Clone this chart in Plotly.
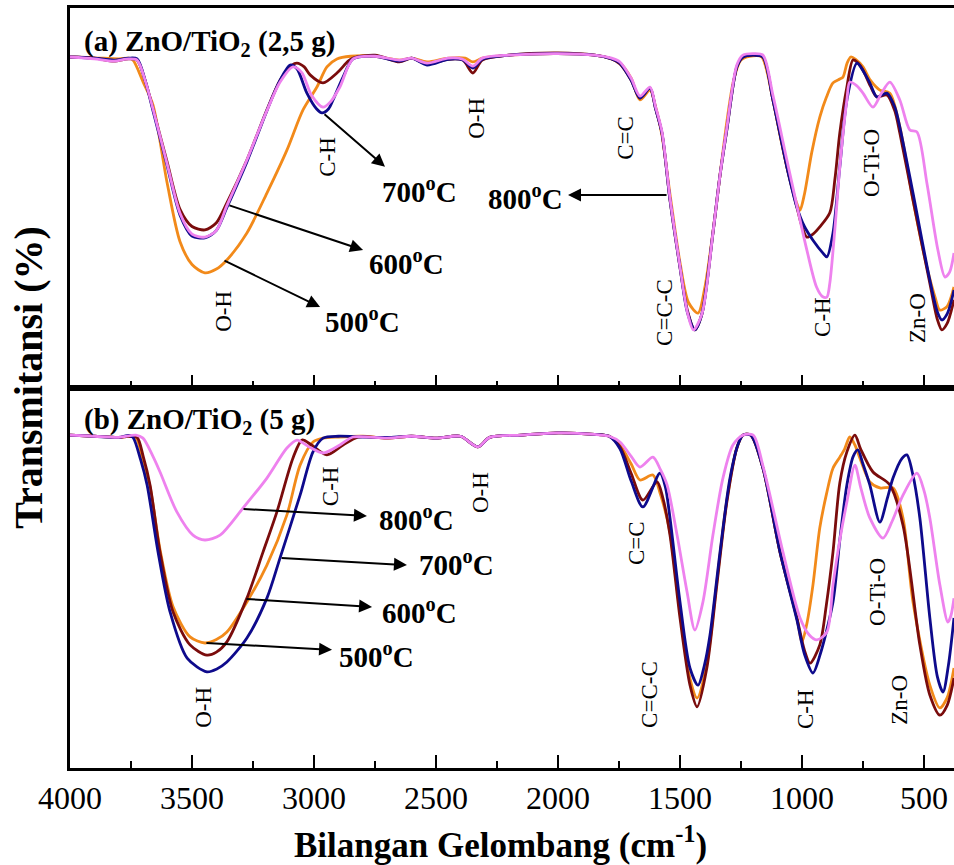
import plotly.graph_objects as go

# ---------------- data (wavenumber cm-1, transmittance a.u.) ----------------
# Panel (a) ZnO/TiO2 (2,5 g)
A500_WN = [4000, 3900, 3800, 3760, 3742, 3700, 3660, 3602, 3549, 3500, 3447, 3400, 3357, 3275, 3193, 3111,
           3045, 2988, 2947, 2906, 2850, 2750, 2650, 2600, 2537, 2450, 2380, 2349, 2310, 2200, 2000, 1850,
           1780, 1746, 1700, 1664, 1623, 1600, 1574, 1541, 1500, 1465, 1426, 1398, 1365, 1336, 1308, 1280,
           1250, 1200, 1165, 1119, 1090, 1062, 1021, 1008, 990, 960, 927, 900, 873, 845, 832, 815, 800,
           780, 750, 720, 681, 640, 599, 545, 488, 455, 435, 405, 377]
A500_T = [87.1, 86.9, 86.6, 86.8, 86.3, 80.5, 74.5, 54.0, 38.5, 32.5, 30.3, 31.3, 33.7, 40.8, 51.3, 62.6,
          73.2, 79.2, 84.5, 86.6, 87.3, 87.3, 86.3, 86.8, 85.8, 86.8, 86.8, 85.8, 86.8, 87.6, 88.0, 87.6,
          86.6, 85.5, 81.5, 75.8, 78.4, 74.0, 66.5, 51.0, 33.0, 22.5, 19.7, 26.5, 41.0, 56.0, 70.0, 81.0,
          86.3, 87.4, 87.1, 75.8, 66.5, 58.2, 48.5, 46.8, 51.0, 62.0, 71.3, 76.5, 80.3, 81.3, 81.8, 85.5, 87.1,
          86.5, 84.5, 81.0, 78.4, 77.6, 68.7, 49.5, 31.8, 24.0, 20.5, 21.5, 26.6]

A600_WN = [4000, 3900, 3820, 3760, 3725, 3690, 3660, 3602, 3549, 3500, 3447, 3400, 3357, 3275, 3193, 3139,
           3090, 3070, 3040, 3016, 2963, 2906, 2860, 2840, 2750, 2650, 2600, 2537, 2450, 2390, 2349, 2310,
           2200, 2000, 1850, 1780, 1746, 1700, 1664, 1623, 1600, 1574, 1541, 1500, 1470, 1439, 1410, 1365,
           1336, 1308, 1267, 1242, 1200, 1160, 1119, 1062, 1021, 1000, 980, 955, 927, 886, 865, 845, 816,
           791, 770, 750, 720, 693, 652, 620, 599, 545, 476, 445, 427, 405, 377]
A600_T = [87.1, 86.8, 86.0, 86.6, 86.3, 80.5, 73.5, 59.5, 47.0, 42.5, 41.6, 43.5, 48.7, 60.0, 73.2, 81.0,
          85.0, 85.5, 84.5, 82.4, 80.3, 82.9, 86.0, 86.8, 87.6, 85.8, 86.8, 85.3, 86.5, 86.3, 82.9, 86.3,
          87.6, 88.2, 87.6, 86.6, 85.3, 81.0, 76.3, 78.9, 73.5, 67.1, 49.5, 31.8, 20.5, 15.3, 19.5, 40.8,
          56.0, 68.0, 84.5, 87.1, 87.6, 87.1, 75.8, 58.2, 47.6, 42.5, 39.7, 40.5, 42.4, 46.1, 55.0, 67.1, 79.2,
          86.3, 85.5, 83.7, 79.5, 76.6, 77.1, 73.0, 67.1, 49.5, 27.6, 18.0, 15.3, 17.0, 23.2]

A700_WN = [4000, 3900, 3820, 3760, 3725, 3690, 3660, 3602, 3549, 3500, 3447, 3400, 3357, 3275, 3193, 3139,
           3098, 3070, 3029, 2990, 2967, 2940, 2922, 2881, 2840, 2750, 2650, 2600, 2537, 2450, 2390, 2349,
           2310, 2200, 2000, 1850, 1780, 1746, 1700, 1664, 1623, 1600, 1574, 1541, 1500, 1470, 1439, 1410,
           1365, 1336, 1308, 1267, 1242, 1200, 1160, 1119, 1062, 1021, 990, 955, 914, 898, 873, 845, 816,
           775, 750, 722, 693, 652, 620, 599, 545, 476, 445, 427, 405, 377]
A700_T = [87.1, 86.8, 86.3, 86.8, 86.6, 80.5, 73.0, 58.5, 45.5, 40.0, 39.5, 41.5, 47.5, 59.5, 73.0, 81.0,
          85.0, 84.0, 77.6, 73.5, 72.4, 73.5, 75.8, 81.8, 86.6, 87.3, 86.0, 86.8, 85.0, 86.5, 86.3, 84.2,
          86.5, 87.6, 88.0, 87.6, 86.6, 85.5, 81.0, 76.3, 78.9, 73.5, 67.1, 49.5, 31.8, 20.0, 15.3, 19.5,
          40.8, 56.0, 68.0, 84.5, 87.1, 87.6, 87.1, 75.8, 58.2, 47.6, 42.5, 38.9, 35.5, 34.5, 40.8, 58.2, 75.8,
          85.5, 83.5, 80.3, 76.6, 77.6, 74.0, 68.7, 51.3, 28.4, 20.0, 17.9, 19.5, 25.8]

A800_WN = [4000, 3900, 3820, 3760, 3725, 3690, 3660, 3602, 3549, 3500, 3447, 3400, 3357, 3275, 3193, 3139,
           3086, 3050, 3010, 2963, 2930, 2894, 2840, 2750, 2650, 2600, 2537, 2450, 2390, 2349, 2310, 2200,
           2000, 1850, 1780, 1746, 1700, 1664, 1623, 1600, 1574, 1541, 1500, 1470, 1445, 1410, 1365, 1336,
           1308, 1267, 1242, 1200, 1160, 1119, 1062, 1021, 980, 940, 915, 898, 886, 865, 845, 816, 804,
           775, 750, 709, 675, 640, 599, 558, 529, 488, 443, 414, 395, 377]
A800_T = [87.1, 86.6, 86.0, 86.6, 86.3, 80.5, 73.5, 59.0, 46.0, 40.5, 39.7, 41.5, 48.0, 60.0, 73.0, 80.5,
          84.5, 83.0, 77.0, 73.9, 75.5, 79.2, 86.6, 87.3, 86.3, 86.8, 85.5, 86.8, 86.5, 84.7, 86.8, 87.6,
          88.0, 87.6, 86.8, 85.8, 81.5, 76.8, 79.2, 74.0, 67.5, 50.0, 32.0, 20.0, 15.3, 19.5, 40.8, 56.0,
          68.5, 85.0, 87.6, 88.0, 87.6, 77.0, 60.0, 48.0, 36.3, 26.5, 24.0, 23.9, 27.6, 42.0, 58.2, 75.8, 80.5,
          79.5, 77.6, 73.9, 77.5, 80.5, 75.8, 67.9, 67.4, 53.9, 36.3, 29.2, 30.5, 35.5]

# Panel (b) ZnO/TiO2 (5 g)
B500_WN = [4000, 3900, 3800, 3760, 3730, 3700, 3672, 3631, 3578, 3508, 3447, 3400, 3357, 3275, 3193, 3111,
           3057, 3004, 2963, 2900, 2800, 2700, 2600, 2500, 2400, 2328, 2280, 2150, 2000, 1850, 1790, 1746,
           1700, 1664, 1611, 1580, 1541, 1500, 1459, 1430, 1390, 1349, 1308, 1267, 1242, 1210, 1160, 1090,
           1021, 1000, 980, 955, 927, 900, 873, 845, 825, 804, 783, 763, 722, 681, 627, 586, 545, 476, 435,
           405, 377]
B500_T = [87.6, 87.3, 87.0, 87.3, 87.0, 80.5, 74.0, 57.5, 42.5, 34.5, 32.9, 33.8, 35.8, 43.7, 53.4, 66.6,
          79.7, 85.8, 86.8, 87.1, 87.3, 86.8, 87.3, 86.8, 87.3, 84.5, 87.0, 87.6, 88.2, 87.8, 87.3, 85.0,
          80.0, 75.8, 77.1, 72.0, 62.0, 41.0, 23.5, 18.4, 27.5, 49.0, 70.5, 84.2, 87.6, 87.6, 78.9, 56.8,
          39.5, 33.2, 38.0, 48.2, 63.2, 72.0, 78.9, 81.8, 84.0, 87.1, 85.0, 81.6, 75.3, 73.7, 73.7, 65.8, 43.7,
          21.8, 15.8, 18.5, 26.3]

B600_WN = [4000, 3900, 3800, 3760, 3725, 3700, 3672, 3631, 3578, 3508, 3439, 3400, 3357, 3275, 3209, 3152,
           3086, 3049, 3010, 2947, 2881, 2820, 2700, 2600, 2500, 2400, 2328, 2280, 2150, 2000, 1850, 1790,
           1746, 1700, 1652, 1594, 1570, 1541, 1500, 1459, 1430, 1390, 1349, 1308, 1267, 1242, 1210, 1160,
           1090, 1021, 990, 967, 927, 900, 873, 845, 816, 783, 760, 709, 640, 586, 517, 476, 435, 405, 377]
B600_T = [87.6, 87.3, 87.0, 87.3, 87.0, 82.0, 74.5, 56.8, 41.1, 32.4, 29.7, 30.5, 33.2, 44.7, 56.8, 67.4,
          81.6, 86.3, 85.0, 82.4, 85.0, 87.1, 86.8, 87.3, 86.8, 87.3, 84.5, 87.0, 87.6, 88.2, 87.8, 87.3,
          84.5, 77.5, 70.5, 75.3, 71.0, 61.3, 39.5, 21.8, 16.1, 26.3, 48.2, 70.0, 84.2, 87.6, 87.6, 78.9,
          56.8, 39.5, 31.0, 27.6, 32.4, 43.0, 56.8, 75.0, 83.2, 87.6, 84.0, 77.9, 74.5, 63.9, 32.4, 19.2, 13.9,
          16.5, 23.7]

B700_WN = [4000, 3900, 3800, 3760, 3742, 3710, 3684, 3639, 3590, 3520, 3439, 3400, 3357, 3275, 3193, 3139,
           3057, 3004, 2963, 2900, 2800, 2700, 2600, 2500, 2400, 2328, 2280, 2150, 2000, 1850, 1790, 1746,
           1700, 1652, 1582, 1560, 1541, 1500, 1459, 1426, 1400, 1377, 1336, 1295, 1260, 1242, 1210, 1160,
           1090, 1021, 990, 955, 925, 873, 845, 816, 790, 771, 750, 722, 681, 650, 627, 590, 570, 545, 517,
           476, 445, 422, 400, 377]
B700_T = [87.6, 87.3, 87.0, 87.5, 87.0, 81.0, 74.5, 56.8, 41.1, 28.9, 25.3, 26.0, 27.9, 34.2, 44.7, 55.3,
          71.8, 83.2, 86.8, 87.3, 87.1, 87.0, 87.3, 86.8, 87.3, 84.5, 87.0, 87.6, 88.2, 87.8, 87.3, 84.0,
          75.5, 68.7, 77.6, 74.0, 65.8, 43.7, 26.3, 21.8, 27.0, 35.0, 56.8, 76.3, 85.5, 87.6, 87.6, 78.9,
          56.8, 39.0, 30.0, 25.0, 30.0, 43.7, 60.0, 74.5, 82.0, 83.7, 80.0, 74.5, 64.7, 71.0, 76.3, 81.5, 82.4,
          77.0, 65.8, 39.5, 24.0, 20.0, 27.0, 39.5]

B800_WN = [4000, 3900, 3800, 3730, 3701, 3660, 3631, 3562, 3496, 3447, 3385, 3291, 3193, 3111, 3070, 3020,
           2963, 2894, 2840, 2700, 2600, 2500, 2400, 2328, 2280, 2150, 2000, 1850, 1790, 1746, 1700, 1664,
           1611, 1580, 1553, 1512, 1471, 1439, 1406, 1365, 1324, 1283, 1242, 1200, 1160, 1078, 1008, 970,
           939, 898, 873, 845, 816, 783, 760, 722, 668, 630, 586, 529, 500, 476, 435, 402, 390, 377]
B800_T = [87.6, 87.3, 87.0, 87.6, 86.8, 82.0, 77.9, 67.4, 61.3, 60.0, 61.3, 68.4, 76.3, 84.2, 86.3, 84.5,
          82.9, 85.0, 87.1, 86.8, 87.3, 86.8, 87.3, 84.5, 87.0, 87.6, 88.2, 87.8, 87.3, 85.8, 82.0, 79.2,
          81.8, 78.5, 74.5, 61.3, 46.3, 36.3, 43.7, 61.3, 76.3, 85.0, 87.6, 87.6, 79.5, 56.8, 39.5, 35.0,
          33.7, 35.8, 48.2, 60.0, 70.0, 79.7, 74.0, 65.8, 60.5, 65.0, 71.8, 77.6, 73.0, 65.8, 48.2, 38.4,
          40.0, 44.7]

TEMPS = ["500", "600", "700", "800"]
COLORS = ["#F28A1A", "#7A0C0C", "#0E0A8C", "#EE82EE"]
PANEL_A = [(A500_WN, A500_T), (A600_WN, A600_T), (A700_WN, A700_T), (A800_WN, A800_T)]
PANEL_B = [(B500_WN, B500_T), (B600_WN, B600_T), (B700_WN, B700_T), (B800_WN, B800_T)]

PANEL_TITLES = ["(a) ZnO/TiO<sub>2</sub> (2,5 g)", "(b) ZnO/TiO<sub>2</sub> (5 g)"]
PANEL_TITLE_Y = [90.8, 91.3]
BOND_LABELS = ["O-H", "C-H", "O-H", "C=C", "C=C-C", "C-H", "O-Ti-O", "Zn-O"]
# label anchor positions (wavenumber, transmittance) for each panel
BOND_POS_A = [(3369, 20.3), (2943, 60.8), (2332, 71.1), (1722, 65.8), (1566, 20.0), (914, 18.7), (717, 59.2), (529, 18.4)]
BOND_POS_B = [(3451, 16.1), (2934, 74.2), (2320, 72.6), (1680, 59.2), (1623, 19.5), (988, 15.5), (693, 46.3), (599, 17.9)]
# temperature callouts: label centre, arrow tail, arrow head
TEMP_A = {"500": ((2803, 17.9), (3373, 33.7), (2975, 21.3)),
          "600": ((2619, 33.2), (3353, 48.2), (2799, 36.3)),
          "700": ((2566, 52.1), (2963, 72.4), (2709, 58.2)),
          "800": ((2135, 50.3), (1549, 50.8), (1959, 50.8))}
TEMP_B = {"500": ((2742, 29.7), (3447, 32.9), (2926, 31.1)),
          "600": ((2566, 41.3), (3283, 44.5), (2762, 42.4)),
          "700": ((2414, 53.9), (3139, 55.3), (2619, 53.4)),
          "800": ((2578, 65.8), (3295, 68.2), (2783, 66.3))}

SERIF = "Liberation Serif, Times New Roman, serif"

fig = go.Figure()
for panel, (xa, ya) in zip([PANEL_A, PANEL_B], [("x", "y"), ("x2", "y2")]):
    for (wn, t), col, temp in zip(panel, COLORS, TEMPS):
        fig.add_trace(go.Scatter(x=wn, y=t, mode="lines", xaxis=xa, yaxis=ya,
                                 name=temp + " °C", showlegend=False,
                                 line=dict(color=col, width=2.8, shape="spline", smoothing=0.8)))

annotations = []
for idx, (xr, yr, bpos, tmap) in enumerate([("x", "y", BOND_POS_A, TEMP_A), ("x2", "y2", BOND_POS_B, TEMP_B)]):
    annotations.append(dict(x=3952, y=PANEL_TITLE_Y[idx], xref=xr, yref=yr, text="<b>" + PANEL_TITLES[idx] + "</b>",
                            showarrow=False, xanchor="left", yanchor="middle",
                            font=dict(family=SERIF, size=29, color="black")))
    for lab, (bx, by) in zip(BOND_LABELS, bpos):
        annotations.append(dict(x=bx, y=by, xref=xr, yref=yr, text=lab, textangle=-90, showarrow=False,
                                xanchor="center", yanchor="middle",
                                font=dict(family=SERIF, size=23, color="black")))
    for temp, (lab_pos, tail, head) in tmap.items():
        annotations.append(dict(x=lab_pos[0], y=lab_pos[1], xref=xr, yref=yr,
                                text="<b>" + temp + "<sup>o</sup>C</b>", showarrow=False,
                                xanchor="center", yanchor="middle",
                                font=dict(family=SERIF, size=29, color="black")))
        annotations.append(dict(x=head[0], y=head[1], ax=tail[0], ay=tail[1], xref=xr, yref=yr,
                                axref=xr, ayref=yr, text="", showarrow=True, arrowhead=2,
                                arrowsize=1.3, arrowwidth=2, arrowcolor="black", standoff=0, startstandoff=0))

annotations.append(dict(x=0.487, y=-0.098, xref="paper", yref="paper", xanchor="center", yanchor="middle",
                        text="<b>Bilangan Gelombang (cm<sup>-1</sup>)</b>", showarrow=False,
                        font=dict(family=SERIF, size=35, color="black")))
annotations.append(dict(x=-0.047, y=0.514, xref="paper", yref="paper", xanchor="center", yanchor="middle",
                        textangle=-90, text="<b>Transmitansi (%)</b>", showarrow=False,
                        font=dict(family=SERIF, size=40, color="black")))

xcommon = dict(range=[4000, 377], showline=True, linewidth=2.5, linecolor="black", mirror=True,
               ticks="inside", ticklen=13, tickwidth=2, tickcolor="black", dtick=500, tick0=0,
               minor=dict(ticks="inside", ticklen=7, tickwidth=2, tickcolor="black", dtick=250),
               showgrid=False, zeroline=False)
ycommon = dict(range=[0, 100], showline=True, linewidth=2.5, linecolor="black", mirror=False,
               showticklabels=False, ticks="", showgrid=False, zeroline=False)

fig.update_layout(
    width=954, height=865, margin=dict(l=70, r=0, t=8, b=97),
    plot_bgcolor="white", paper_bgcolor="white",
    xaxis=dict(**xcommon, anchor="y", showticklabels=False),
    yaxis=dict(**ycommon, domain=[0.5, 1.0], anchor="x"),
    xaxis2=dict(**xcommon, anchor="y2", showticklabels=True,
                tickfont=dict(family=SERIF, size=32, color="black")),
    yaxis2=dict(**ycommon, domain=[0.0, 0.5], anchor="x2"),
    annotations=annotations,
)

fig.write_html("out.html")
